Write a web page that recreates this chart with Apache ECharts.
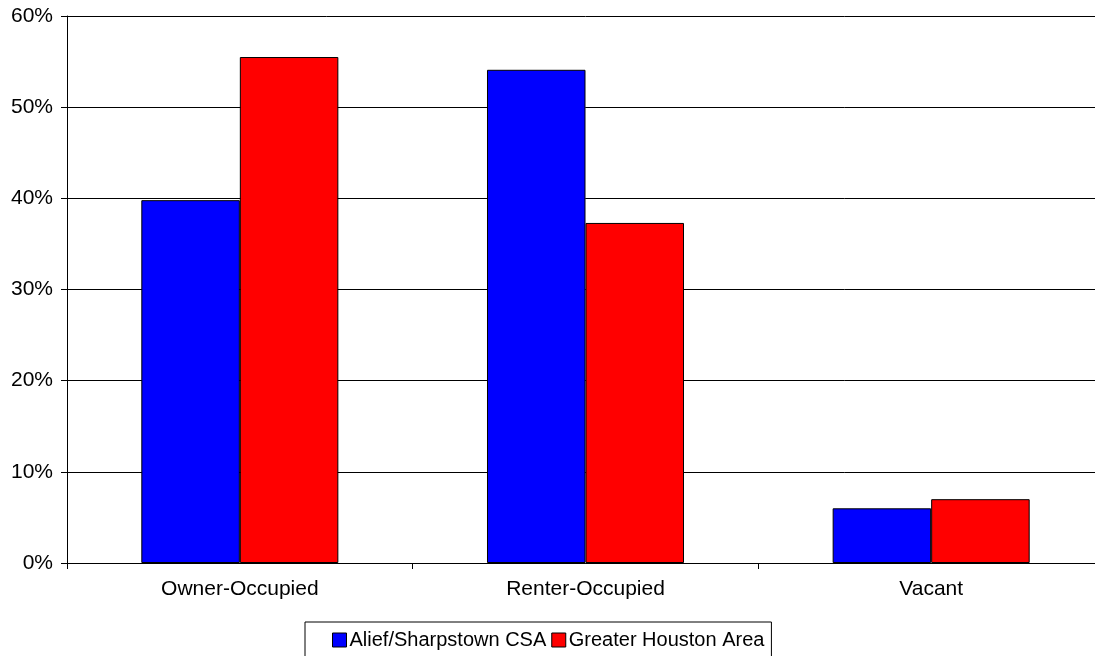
<!DOCTYPE html>
<html>
<head>
<meta charset="utf-8">
<script src="https://cdn.jsdelivr.net/npm/echarts@6/dist/echarts.min.js"></script>
<style>
  html, body { margin: 0; padding: 0; background: #fff; overflow: hidden; }
  /* the plot area of the original runs slightly past the right edge */
  #main { width: 1104px; height: 656px; }
</style>
</head>
<body>
<div id="main"></div>
<script>
// categories and series
var categories = ['Owner-Occupied', 'Renter-Occupied', 'Vacant'];
var aliefValues = [39.8, 54.1, 6.0];
var houstonValues = [55.5, 37.3, 7.0];
var seriesNames = ['Alief/Sharpstown CSA', 'Greater Houston Area'];

var myChart = echarts.init(document.getElementById('main'));

var barStyle = function(color){
    return { color: color, borderColor: '#000', borderWidth: 1 };
};

var option = {
    animation: false,
    backgroundColor: '#fff',
    textStyle: { fontFamily: 'Liberation Sans, Arial, sans-serif' },
    grid: { left: 67, top: 16, right: 0, bottom: 93 },
    legend: {
        top: 622,
        left: 305,
        padding: [8, 7, 20, 27],
        borderColor: '#000',
        borderWidth: 1,
        itemWidth: 14,
        itemHeight: 14,
        itemGap: 5,
        icon: 'rect',
        itemStyle: { borderColor: '#000', borderWidth: 1 },
        textStyle: { fontSize: 20, color: '#000', padding: [0, 0, 0, -2] },
        data: seriesNames
    },
    xAxis: {
        type: 'category',
        data: categories,
        axisLine: { lineStyle: { color: '#000', width: 1 } },
        axisTick: { show: true, length: 6, lineStyle: { color: '#000' } },
        axisLabel: { fontSize: 21, color: '#000', margin: 16 }
    },
    yAxis: {
        type: 'value',
        min: 0,
        max: 60,
        interval: 10,
        axisLine: { show: true, lineStyle: { color: '#000' } },
        axisTick: { show: true, length: 6, lineStyle: { color: '#000' } },
        axisLabel: { fontSize: 21, color: '#000', margin: 14, formatter: '{value}%' },
        splitLine: { lineStyle: { color: '#000', width: 1 } }
    },
    series: [{
        name: seriesNames[0],
        type: 'bar',
        data: aliefValues,
        barGap: '0%',
        barCategoryGap: '43%',
        itemStyle: barStyle('#0000ff')
    }, {
        name: seriesNames[1],
        type: 'bar',
        data: houstonValues,
        itemStyle: barStyle('#ff0000')
    }]
};

myChart.setOption(option);
</script>
</body>
</html>
